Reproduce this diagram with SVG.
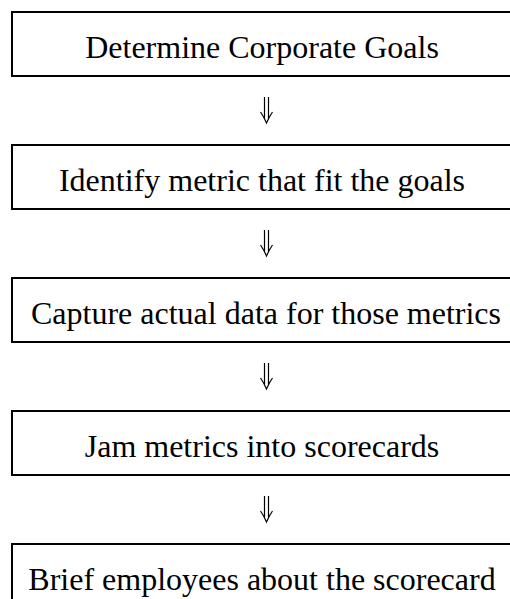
<svg xmlns="http://www.w3.org/2000/svg" width="510" height="599" viewBox="0 0 510 599">
<style>
.box{fill:#fff;stroke:#000;stroke-width:2}
.lbl{font-family:"Liberation Serif","Times New Roman",serif;font-size:32px;fill:#000;text-anchor:middle}
.arr{fill:none;stroke:#000;stroke-width:1.2}
</style>
<defs>
<path id="dbl" d="M264.5,0 V22 M268.5,0 V22 M260.5,15 Q264,20 266.5,26 Q269,20 272.5,15"/>
</defs>
<rect width="510" height="599" fill="#fff"/>
<g id="connectors">
<use href="#dbl" class="arr" y="97"/>
<use href="#dbl" class="arr" y="230"/>
<use href="#dbl" class="arr" y="363"/>
<use href="#dbl" class="arr" y="496"/>
</g>
<g id="n1"><rect class="box" x="12" y="12" width="520" height="64"/><text class="lbl" x="262" y="58">Determine Corporate Goals</text></g>
<g id="n2"><rect class="box" x="12" y="145" width="520" height="64"/><text class="lbl" x="262" y="191">Identify metric that fit the goals</text></g>
<g id="n3"><rect class="box" x="12" y="278" width="520" height="64"/><text class="lbl" x="266" y="324">Capture actual data for those metrics</text></g>
<g id="n4"><rect class="box" x="12" y="411" width="520" height="64"/><text class="lbl" x="262" y="457">Jam metrics into scorecards</text></g>
<g id="n5"><rect class="box" x="12" y="544" width="520" height="64"/><text class="lbl" x="262" y="590">Brief employees about the scorecard</text></g>
</svg>
